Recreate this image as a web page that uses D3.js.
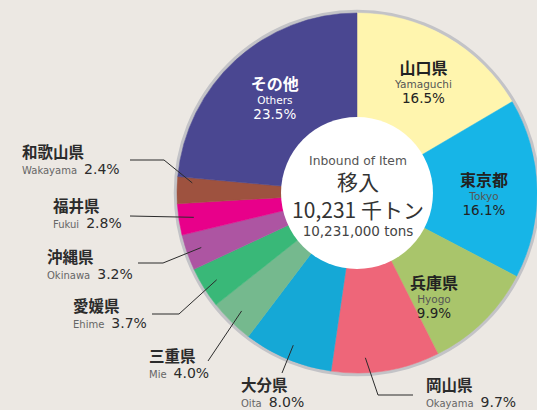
<!DOCTYPE html>
<html>
<head>
<meta charset="utf-8">
<script src="https://cdn.jsdelivr.net/npm/d3@7"></script>
<style>
  html, body { margin: 0; padding: 0; background: #ece8e3; }
  svg { display: block; }
  .ja { font-family: "Noto Sans CJK JP", sans-serif; }
  .en { font-family: "DejaVu Sans", "Noto Sans", sans-serif; }
</style>
</head>
<body>
<div id="chart"></div>
<script>
// data, clockwise from 12 o'clock
const namesJa = ["山口県", "東京都", "兵庫県", "岡山県", "大分県", "三重県", "愛媛県", "沖縄県", "福井県", "和歌山県", "その他"];
const namesEn = ["Yamaguchi", "Tokyo", "Hyogo", "Okayama", "Oita", "Mie", "Ehime", "Okinawa", "Fukui", "Wakayama", "Others"];
const shares = [16.5, 16.1, 9.9, 9.7, 8.0, 4.0, 3.7, 3.2, 2.8, 2.4, 23.5];
const colors = ["#fff5ae", "#17b5e7", "#a9c56b", "#ee6679", "#15a8d6", "#75b98e", "#39b878", "#ad55a2", "#e8008a", "#9e523f", "#4a4791"];

const centerEn = "Inbound of Item";
const centerJa = "移入";
const totalJa = "10,231 千トン";
const totalEn = "10,231,000 tons";

// svg size
const width = 537,
      height = 410;
const cx = 357, cy = 193, radius = 180;

const svg = d3.select("#chart")
  .append("svg")
    .attr("width", width)
    .attr("height", height)
    .attr("viewBox", `0 0 ${width} ${height}`);

const table = namesEn.map((n, i) => ({ en: n, ja: namesJa[i], pct: shares[i], color: colors[i] }));

const pie = d3.pie().sort(null).value(d => d.pct);
const arcs = pie(table);

const arc = d3.arc().innerRadius(0).outerRadius(radius);

const g = svg.append("g").attr("transform", `translate(${cx},${cy})`);

// outer grey rim
g.append("circle")
  .attr("r", radius + 1.5)
  .attr("fill", "none")
  .attr("stroke", "#c3c3c7")
  .attr("stroke-width", 3.5);

g.selectAll("path.slice")
  .data(arcs)
  .join("path")
    .attr("class", "slice")
    .attr("d", arc)
    .attr("fill", d => d.data.color)
    .attr("stroke", d => d.data.color)
    .attr("stroke-width", 0.5);

// white hole
g.append("circle")
  .attr("r", 76)
  .attr("fill", "#ffffff");

// point at a fraction of a slice's angle
function pointIn(d, at, r) {
  const a = d.startAngle + at * (d.endAngle - d.startAngle);
  return [r * Math.sin(a), -r * Math.cos(a)];
}

// labels inside the big slices
const inner = {
  Yamaguchi: { at: 0.53, r: 127, dark: true },
  Tokyo: { at: 0.55, r: 127, dark: true },
  Hyogo: { at: 0.74, r: 131, dark: true },
  Others: { at: 0.51, r: 124, dark: false }
};

arcs.filter(d => inner[d.data.en]).forEach(d => {
  const o = inner[d.data.en];
  const [x, y] = pointIn(d, o.at, o.r);
  const t = g.append("g").attr("transform", `translate(${x},${y})`);
  t.append("text")
    .attr("class", "ja")
    .attr("text-anchor", "middle")
    .attr("y", -10.5)
    .style("font-size", "16px")
    .style("font-weight", "bold")
    .style("fill", o.dark ? "#222" : "#fff")
    .text(d.data.ja);
  t.append("text")
    .attr("class", "en")
    .attr("text-anchor", "middle")
    .attr("y", 3.5)
    .style("font-size", "10.5px")
    .style("fill", o.dark ? "#555" : "#fff")
    .text(d.data.en);
  t.append("text")
    .attr("class", "en")
    .attr("text-anchor", "middle")
    .attr("y", 18.5)
    .style("font-size", "13.5px")
    .style("fill", o.dark ? "#222" : "#fff")
    .text(d3.format(".1f")(d.data.pct) + "%");
});

// labels outside with leader lines (absolute page coords)
const outer = {
  Wakayama: { x: 22, y: 158, line: [[130, 160], [164, 160]], at: 0.8 },
  Fukui: { x: 53, y: 212, line: [[130, 216]], at: 0.5 },
  Okinawa: { x: 47, y: 263, line: [[138, 263], [163, 263]], at: 0.5 },
  Ehime: { x: 73, y: 312, line: [[152, 314], [179, 314]], at: 0.5 },
  Mie: { x: 149, y: 362, line: [[208, 361]], at: 0.5 },
  Oita: { x: 241, y: 391, line: [[282, 373]], at: 0.5 },
  Okayama: { x: 426, y: 391, line: [[413, 395], [378, 395]], at: 0.68 }
};

const lineGen = d3.line();

arcs.filter(d => outer[d.data.en]).forEach(d => {
  const o = outer[d.data.en];
  const [ex, ey] = pointIn(d, o.at, 165);
  const pts = o.line.concat([[cx + ex, cy + ey]]);
  svg.append("path")
    .attr("d", lineGen(pts))
    .attr("fill", "none")
    .attr("stroke", "#2b2b2b")
    .attr("stroke-width", 1);

  svg.append("text")
    .attr("class", "ja")
    .attr("x", o.x)
    .attr("y", o.y)
    .style("font-size", "15.5px")
    .style("font-weight", "bold")
    .style("fill", "#2b2b2b")
    .text(d.data.ja);

  const t = svg.append("text")
    .attr("class", "en")
    .attr("x", o.x)
    .attr("y", o.y + 16);
  t.append("tspan")
    .style("font-size", "10px")
    .style("fill", "#666")
    .text(d.data.en);
  t.append("tspan")
    .attr("dx", 7)
    .style("font-size", "14px")
    .style("fill", "#2b2b2b")
    .text(d3.format(".1f")(d.data.pct) + "%");
});

// centre text
const c = svg.append("g").attr("transform", `translate(${cx + 1},0)`);
c.append("text")
  .attr("class", "en")
  .attr("text-anchor", "middle")
  .attr("y", 164.5)
  .style("font-size", "12.3px")
  .style("fill", "#555")
  .text(centerEn);
c.append("text")
  .attr("class", "ja")
  .attr("text-anchor", "middle")
  .attr("y", 190)
  .style("font-size", "21px")
  .style("fill", "#333")
  .text(centerJa);
c.append("text")
  .attr("class", "ja")
  .attr("text-anchor", "middle")
  .attr("y", 218)
  .style("font-size", "21px")
  .style("fill", "#333")
  .text(totalJa);
c.append("text")
  .attr("class", "en")
  .attr("text-anchor", "middle")
  .attr("y", 235.5)
  .style("font-size", "13.5px")
  .style("fill", "#444")
  .text(totalEn);
</script>
</body>
</html>
